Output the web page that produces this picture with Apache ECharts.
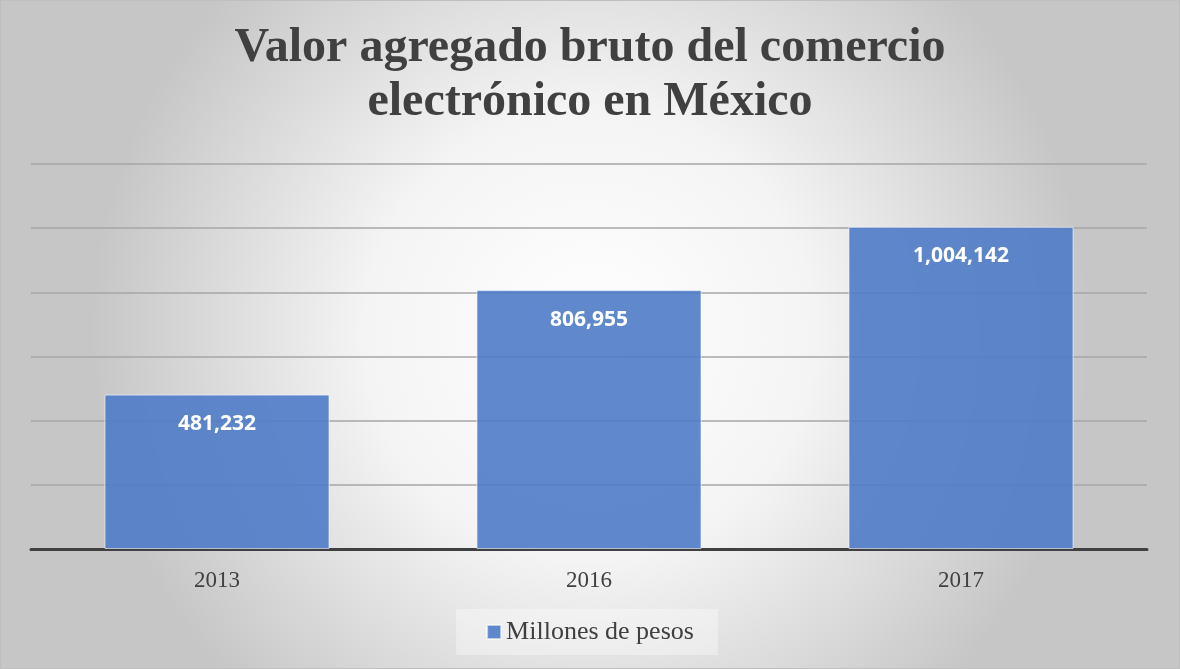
<!DOCTYPE html>
<html>
<head>
<meta charset="utf-8">
<script src="https://cdn.jsdelivr.net/npm/echarts@6/dist/echarts.min.js"></script>
<style>
  html, body { margin: 0; padding: 0; }
  #chart { width: 1180px; height: 669px; box-sizing: border-box; border: 1px solid #bfbfbf; }
</style>
</head>
<body>
<div id="chart"></div>
<script>
// datos
var years = ['2013', '2016', '2017'];
var valores = [481232, 806955, 1004142];
var serieNombre = 'Millones de pesos';
var tituloTexto = 'Valor agregado bruto del comercio\nelectrónico en México';

var chart = echarts.init(document.getElementById('chart'));

var option = {
  backgroundColor: {
    type: 'radial', x: 0.5, y: 0.5, r: 0.75,
    colorStops: [
      { offset: 0, color: '#ffffff' },
      { offset: 0.45, color: '#f4f4f4' },
      { offset: 1, color: '#c6c6c6' }
    ]
  },
  title: {
    text: tituloTexto,
    left: 'center',
    top: 16,
    textStyle: {
      fontFamily: 'Liberation Serif',
      fontWeight: 'bold',
      fontSize: 48,
      lineHeight: 54,
      color: '#404040'
    }
  },
  legend: {
    bottom: 13,
    left: 'center',
    data: [serieNombre],
    icon: 'rect',
    itemWidth: 14,
    itemHeight: 14,
    itemGap: 6,
    padding: [10, 24, 10, 30],
    backgroundColor: 'rgba(255,255,255,0.35)',
    textStyle: {
      fontFamily: 'Liberation Serif',
      fontSize: 26,
      color: '#404040'
    }
  },
  grid: {
    left: 30,
    right: 32,
    top: 163,
    bottom: 119,
    containLabel: false
  },
  xAxis: {
    type: 'category',
    data: years,
    axisLine: { show: true, lineStyle: { color: '#404040', width: 3 } },
    axisTick: { show: false },
    axisLabel: {
      fontFamily: 'Liberation Serif',
      fontSize: 23,
      color: '#404040',
      margin: 20
    }
  },
  yAxis: {
    type: 'value',
    min: 0,
    max: 1200000,
    interval: 200000,
    axisLabel: { show: false },
    axisLine: { show: false },
    axisTick: { show: false },
    splitLine: { lineStyle: { color: '#a6a6a6', width: 1.5 } }
  },
  series: [{
    name: serieNombre,
    type: 'bar',
    data: valores,
    barWidth: '60.5%',
    itemStyle: {
      color: 'rgba(79,124,200,0.9)',
      borderColor: 'rgba(255,255,255,0.6)',
      borderWidth: 1
    },
    label: {
      show: true,
      position: 'insideTop',
      distance: 19,
      color: '#ffffff',
      fontFamily: 'Open Sans',
      fontWeight: 'bold',
      fontSize: 21,
      formatter: function (p) { return p.value.toLocaleString('en-US'); }
    }
  }]
};

chart.setOption(option);
</script>
</body>
</html>
